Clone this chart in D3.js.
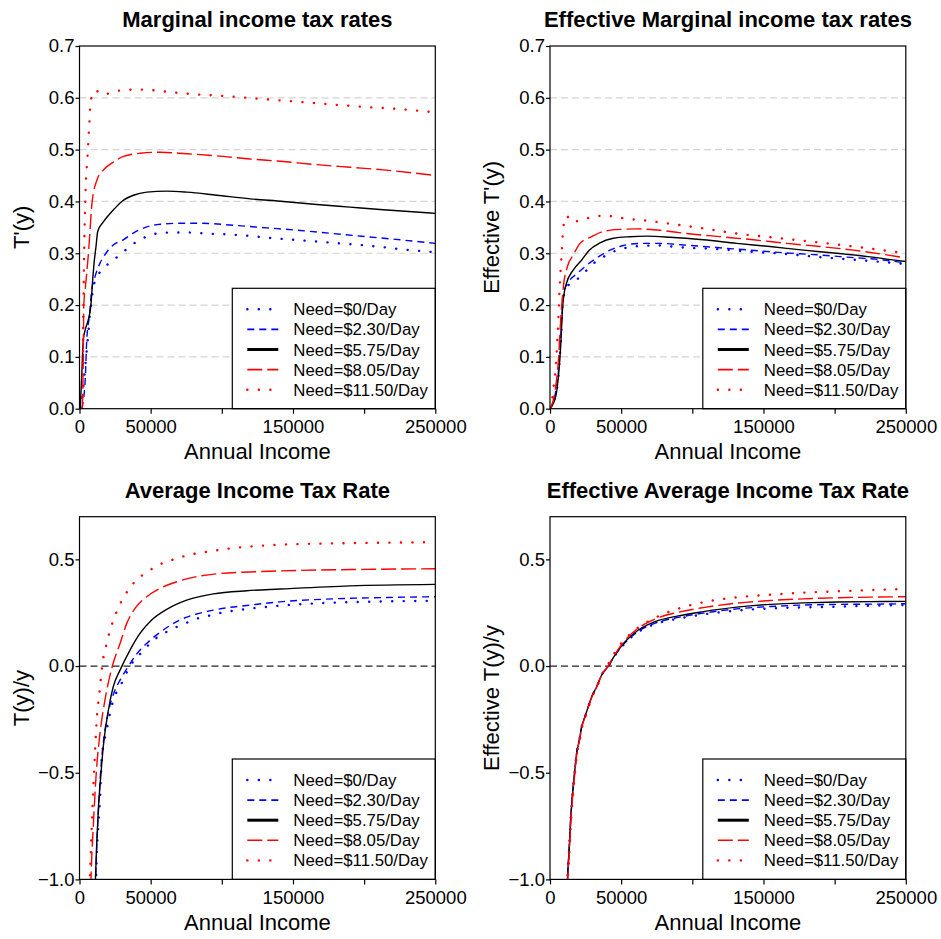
<!DOCTYPE html>
<html>
<head>
<meta charset="utf-8">
<script src="https://cdn.jsdelivr.net/npm/d3@7"></script>
<style>
  body { margin: 0; background: #fff; }
  svg { font-family: "Liberation Sans", Arial, Helvetica, sans-serif; }
</style>
</head>
<body>
<svg id="chart" width="941" height="939"></svg>
<script>
// legend labels (same order in every panel)
const needs = ["Need=$0/Day", "Need=$2.30/Day", "Need=$5.75/Day", "Need=$8.05/Day", "Need=$11.50/Day"];
const xTicks = [0, 50000, 100000, 150000, 200000, 250000];

// --- Marginal income tax rates: [annual income, T'(y)]
const mtr0 = [[500,0],[1500,0.017],[3200,0.056],[4600,0.098],[6200,0.146],[7400,0.185],[8600,0.21],[9300,0.229],[11600,0.25],[16300,0.269],[22300,0.284],[28500,0.297],[34800,0.312],[41300,0.324],[48800,0.334],[56600,0.339],[66000,0.340],[75400,0.340],[89400,0.338],[112800,0.335],[136200,0.329],[159700,0.324],[183100,0.319],[208800,0.313],[225200,0.308],[250000,0.302]];
const mtr230 = [[1600,0],[4000,0.055],[5100,0.133],[6900,0.178],[8600,0.229],[10900,0.255],[14400,0.281],[18600,0.30],[23700,0.316],[30800,0.326],[37800,0.339],[42000,0.345],[47300,0.351],[56700,0.356],[70700,0.358],[84700,0.358],[108100,0.354],[131600,0.349],[155000,0.344],[178400,0.338],[201800,0.332],[225200,0.326],[250000,0.319]];
const mtr575 = [[500,0],[1500,0.06],[2700,0.133],[4000,0.152],[6200,0.172],[7900,0.197],[9300,0.25],[10200,0.28],[11600,0.313],[12800,0.342],[16900,0.361],[23900,0.384],[29700,0.40],[37900,0.412],[47300,0.418],[61300,0.420],[75400,0.418],[96500,0.412],[119900,0.405],[143300,0.40],[166700,0.394],[190100,0.389],[213500,0.384],[250000,0.377]];
const mtr805 = [[1900,0],[2600,0.081],[3000,0.20],[4200,0.236],[6300,0.30],[8900,0.40],[12200,0.441],[16900,0.461],[22700,0.474],[30900,0.487],[42600,0.493],[56700,0.495],[75400,0.492],[96500,0.488],[119900,0.482],[143300,0.477],[166700,0.471],[190100,0.466],[213500,0.461],[250000,0.45]];
const mtr1150 = [[1900,0],[2300,0.081],[2800,0.21],[3500,0.338],[4200,0.416],[5600,0.486],[6800,0.544],[8000,0.596],[11000,0.614],[16900,0.606],[23900,0.612],[32100,0.615],[40300,0.616],[49600,0.615],[63700,0.611],[80100,0.607],[103500,0.603],[126900,0.598],[150300,0.593],[173700,0.588],[197100,0.583],[220500,0.579],[250000,0.572]];

// --- Effective marginal income tax rates
const emtr0 = [[0,0],[3500,0.02],[5900,0.062],[7500,0.126],[8900,0.203],[11700,0.234],[19200,0.25],[24600,0.264],[30900,0.281],[37500,0.293],[44500,0.303],[52700,0.31],[63300,0.314],[75000,0.315],[93700,0.311],[117200,0.308],[140600,0.303],[164000,0.299],[187400,0.293],[210900,0.288],[234300,0.283],[250000,0.279]];
const emtr230 = [[0,0],[4200,0.036],[6600,0.094],[8200,0.171],[9800,0.226],[13100,0.245],[19200,0.261],[25800,0.277],[34000,0.293],[42200,0.306],[51500,0.315],[63300,0.319],[77300,0.319],[93700,0.316],[117200,0.311],[140600,0.306],[164000,0.301],[187400,0.297],[210900,0.292],[234300,0.287],[250000,0.281]];
const emtr575 = [[0,0],[4200,0.026],[6100,0.068],[7500,0.12],[8900,0.197],[11200,0.239],[16400,0.268],[22300,0.287],[27600,0.306],[35100,0.32],[44500,0.329],[56200,0.332],[67900,0.333],[84300,0.331],[107800,0.326],[131200,0.319],[154600,0.313],[178100,0.306],[201500,0.30],[224900,0.293],[250000,0.284]];
const emtr805 = [[0,0],[3500,0.033],[5900,0.094],[7500,0.171],[9400,0.236],[12200,0.274],[16400,0.297],[21100,0.319],[29300,0.332],[37500,0.342],[49200,0.346],[60900,0.347],[75000,0.345],[96100,0.338],[119500,0.332],[142900,0.326],[166400,0.319],[189800,0.313],[213200,0.306],[250000,0.291]];
const emtr1150 = [[900,0],[2300,0.036],[4000,0.081],[5400,0.145],[6600,0.223],[8200,0.30],[9400,0.351],[11700,0.372],[15200,0.361],[21100,0.363],[28100,0.369],[36300,0.372],[44500,0.371],[52700,0.367],[67900,0.363],[84300,0.357],[107800,0.348],[131200,0.338],[154600,0.331],[178100,0.324],[201500,0.317],[224900,0.309],[250000,0.30]];

// --- Average income tax rate: [annual income, T(y)/y]
const atr0 = [[11500,-1.034],[12200,-0.878],[13300,-0.738],[14500,-0.613],[15600,-0.44],[19100,-0.30],[23100,-0.175],[29600,-0.081],[35500,0],[42000,0.052],[47200,0.09],[53700,0.13],[60100,0.156],[67100,0.18],[74300,0.2],[82300,0.222],[89800,0.234],[97500,0.247],[105700,0.257],[113500,0.264],[121000,0.27],[137400,0.281],[164300,0.293],[187700,0.299],[213500,0.303],[250000,0.306]];
const atr230 = [[11200,-1.034],[12100,-0.85],[13300,-0.68],[15000,-0.48],[17300,-0.33],[20400,-0.212],[24500,-0.12],[29000,-0.06],[34500,0],[40000,0.055],[47200,0.106],[58900,0.169],[70600,0.216],[82300,0.244],[94000,0.262],[105700,0.275],[117500,0.284],[140900,0.301],[178400,0.315],[213500,0.321],[250000,0.325]];
const atr575 = [[11000,-1.034],[12100,-0.831],[13200,-0.675],[14900,-0.519],[16700,-0.378],[20300,-0.206],[23700,-0.097],[28500,-0.019],[35500,0.075],[42500,0.153],[50700,0.216],[61300,0.266],[75300,0.309],[94000,0.338],[117500,0.353],[140900,0.361],[190100,0.376],[250000,0.383]];
const atr805 = [[7900,-1.034],[8100,-0.988],[9700,-0.75],[11600,-0.519],[14400,-0.316],[17900,-0.159],[23100,0],[28500,0.106],[33200,0.2],[39000,0.27],[47200,0.325],[56600,0.364],[68300,0.395],[82300,0.419],[98700,0.434],[120000,0.441],[140900,0.446],[200000,0.453],[250000,0.456]];
const atr1150 = [[7000,-1.034],[7400,-0.98],[8600,-0.75],[10200,-0.503],[12100,-0.253],[14400,-0.1],[16300,0.02],[18400,0.085],[20000,0.131],[22100,0.181],[24700,0.231],[27800,0.281],[31300,0.325],[36000,0.372],[41300,0.411],[47900,0.442],[54900,0.472],[62200,0.491],[69900,0.508],[77600,0.522],[85400,0.531],[93300,0.539],[101000,0.547],[117500,0.559],[133100,0.566],[178400,0.575],[213500,0.578],[250000,0.581]];

// --- Effective average income tax rate
const eatr0 = [[12100,-1.034],[12400,-0.98],[13300,-0.878],[14500,-0.722],[15700,-0.612],[17100,-0.511],[18700,-0.409],[20600,-0.347],[22300,-0.284],[24600,-0.237],[26900,-0.19],[29300,-0.144],[32800,-0.097],[36300,-0.042],[41000,0],[45700,0.05],[52700,0.107],[62100,0.16],[73800,0.197],[90100,0.222],[107800,0.242],[131200,0.26],[154600,0.27],[178100,0.275],[201500,0.278],[224900,0.283],[250000,0.286]];
const eatr230 = [[12100,-1.034],[12400,-0.98],[13300,-0.878],[14500,-0.722],[15700,-0.612],[17100,-0.511],[18700,-0.409],[20600,-0.347],[22300,-0.284],[24600,-0.237],[26900,-0.19],[29300,-0.144],[32800,-0.097],[36300,-0.042],[41000,0],[45700,0.051],[52700,0.109],[62100,0.163],[73800,0.201],[90100,0.228],[107800,0.248],[131200,0.268],[154600,0.279],[178100,0.286],[201500,0.289],[224900,0.29],[250000,0.292]];
const eatr575 = [[12100,-1.034],[12400,-0.98],[13300,-0.878],[14500,-0.722],[15700,-0.612],[17100,-0.511],[18700,-0.409],[20600,-0.347],[22300,-0.284],[24600,-0.237],[26900,-0.19],[29300,-0.144],[32800,-0.097],[36300,-0.042],[41000,0],[45700,0.052],[52700,0.114],[62100,0.169],[73800,0.208],[90100,0.235],[107800,0.255],[131200,0.276],[154600,0.289],[178100,0.296],[201500,0.30],[224900,0.302],[250000,0.303]];
const eatr805 = [[12300,-1.034],[12600,-0.98],[13500,-0.878],[14700,-0.722],[15900,-0.612],[17300,-0.511],[18900,-0.409],[20800,-0.347],[22500,-0.284],[24800,-0.237],[27100,-0.19],[29500,-0.144],[32900,-0.097],[36300,-0.042],[40800,0],[45500,0.054],[52700,0.12],[62100,0.178],[73800,0.22],[90100,0.252],[107800,0.274],[131200,0.295],[154600,0.307],[178100,0.315],[201500,0.32],[224900,0.323],[250000,0.325]];
const eatr1150 = [[12400,-1.034],[12700,-0.98],[13600,-0.878],[14800,-0.722],[16000,-0.612],[17400,-0.511],[19000,-0.409],[20900,-0.347],[22600,-0.284],[24900,-0.237],[27200,-0.19],[29600,-0.144],[33000,-0.097],[36300,-0.042],[40500,0.005],[44500,0.052],[48500,0.094],[53900,0.134],[59700,0.169],[66700,0.2],[80800,0.247],[96100,0.281],[112500,0.305],[131200,0.322],[154600,0.334],[178100,0.344],[201500,0.35],[224900,0.356],[250000,0.361]];

// line style per Need level
const styles = [
  { color: "#0000ff", width: 2.4, dash: "0.1,11.4", cap: "round", legendWidth: 2.4 },
  { color: "#0000ff", width: 1.4, dash: "7,5", cap: "butt", legendWidth: 1.6 },
  { color: "#000000", width: 1.4, dash: null, cap: "butt", legendWidth: 3 },
  { color: "#ff0000", width: 1.4, dash: "15,5", cap: "butt", legendWidth: 1.6 },
  { color: "#ff0000", width: 2.4, dash: "0.1,11.4", cap: "round", legendWidth: 2.4 }
];

const svg = d3.select("#chart");
const pw = 355.8, ph = 362.7;

function drawPanel(opts) {
  const g = svg.append("g").attr("transform", `translate(${opts.left},${opts.top})`);
  const x = d3.scaleLinear().domain([0, 250000]).range([0, pw]);
  const y = d3.scaleLinear().domain(opts.yDomain).range([ph, 0]);

  g.append("clipPath").attr("id", opts.id + "-clip")
    .append("rect").attr("width", pw).attr("height", ph);

  // grid / reference lines
  g.selectAll(".grid")
    .data(opts.grid)
    .enter()
    .append("line")
    .attr("x1", 0).attr("x2", pw)
    .attr("y1", d => y(d)).attr("y2", d => y(d))
    .attr("stroke", opts.gridColor)
    .attr("stroke-width", 1.2)
    .attr("stroke-dasharray", "7,4");

  const line = d3.line().x(d => x(d[0])).y(d => y(d[1])).curve(d3.curveMonotoneX);

  g.append("g")
    .attr("clip-path", `url(#${opts.id}-clip)`)
    .selectAll("path")
    .data(opts.series)
    .enter()
    .append("path")
    .attr("d", d => line(d))
    .attr("fill", "none")
    .attr("stroke", (d, i) => styles[i].color)
    .attr("stroke-width", (d, i) => styles[i].width)
    .attr("stroke-linecap", (d, i) => styles[i].cap)
    .attr("stroke-dasharray", (d, i) => styles[i].dash);

  // legend, bottom right corner of plot
  const lg = g.append("g").attr("transform", `translate(${pw - 203},${ph - 120.4})`);
  lg.append("rect")
    .attr("width", 203).attr("height", 120.4)
    .attr("fill", "#fff").attr("stroke", "#000").attr("stroke-width", 1.2);
  const items = lg.selectAll(".item")
    .data(needs)
    .enter()
    .append("g")
    .attr("transform", (d, i) => `translate(0,${21 + i * 20.1})`);
  items.append("line")
    .attr("x1", 15).attr("x2", 46)
    .attr("stroke", (d, i) => styles[i].color)
    .attr("stroke-width", (d, i) => styles[i].legendWidth)
    .attr("stroke-linecap", (d, i) => styles[i].cap)
    .attr("stroke-dasharray", (d, i) => styles[i].dash);
  items.append("text")
    .attr("x", 61)
    .attr("dy", "0.36em")
    .style("font-size", "16.8px")
    .text(d => d);

  // frame
  g.append("rect")
    .attr("width", pw).attr("height", ph)
    .attr("fill", "none").attr("stroke", "#000").attr("stroke-width", 1.2);

  const xAxis = g.append("g")
    .attr("transform", `translate(0,${ph})`)
    .call(d3.axisBottom(x).tickValues(xTicks).tickSize(5).tickPadding(6)
      .tickFormat(d => (d === 100000 || d === 200000) ? "" : d3.format("d")(d)));
  const yAxis = g.append("g")
    .call(d3.axisLeft(y).tickValues(opts.yTicks).tickSize(4).tickPadding(1)
      .tickFormat(d3.format(".1f")));
  [xAxis, yAxis].forEach(a => {
    a.select(".domain").remove();
    a.selectAll("line").attr("stroke", "#000").attr("stroke-width", 1.2);
    a.selectAll("text").style("font-size", "18.5px").attr("fill", "#000");
  });

  g.append("text")
    .attr("x", pw / 2).attr("y", -19)
    .attr("text-anchor", "middle")
    .style("font-size", "22px").style("font-weight", "bold")
    .text(opts.title);

  g.append("text")
    .attr("x", pw / 2).attr("y", ph + 50.5)
    .attr("text-anchor", "middle")
    .style("font-size", "22px")
    .text("Annual Income");

  g.append("text")
    .attr("transform", `translate(-51,${ph / 2}) rotate(-90)`)
    .attr("text-anchor", "middle")
    .style("font-size", "22px")
    .text(opts.yLabel);
}

const topTicks = [0, 0.1, 0.2, 0.3, 0.4, 0.5, 0.6, 0.7];
const topGrid = [0.1, 0.2, 0.3, 0.4, 0.5, 0.6];
const botTicks = [-1, -0.5, 0, 0.5];

drawPanel({ id: "p1", left: 79.5, top: 46, yDomain: [0, 0.7], yTicks: topTicks, grid: topGrid, gridColor: "#d4d4d4",
  title: "Marginal income tax rates", yLabel: "T'(y)", series: [mtr0, mtr230, mtr575, mtr805, mtr1150] });
drawPanel({ id: "p2", left: 550, top: 46, yDomain: [0, 0.7], yTicks: topTicks, grid: topGrid, gridColor: "#d4d4d4",
  title: "Effective Marginal income tax rates", yLabel: "Effective T'(y)", series: [emtr0, emtr230, emtr575, emtr805, emtr1150] });
drawPanel({ id: "p3", left: 79.5, top: 516.7, yDomain: [-1, 0.7], yTicks: botTicks, grid: [0], gridColor: "#222",
  title: "Average Income Tax Rate", yLabel: "T(y)/y", series: [atr0, atr230, atr575, atr805, atr1150] });
drawPanel({ id: "p4", left: 550, top: 516.7, yDomain: [-1, 0.7], yTicks: botTicks, grid: [0], gridColor: "#222",
  title: "Effective Average Income Tax Rate", yLabel: "Effective T(y)/y", series: [eatr0, eatr230, eatr575, eatr805, eatr1150] });
</script>
</body>
</html>
